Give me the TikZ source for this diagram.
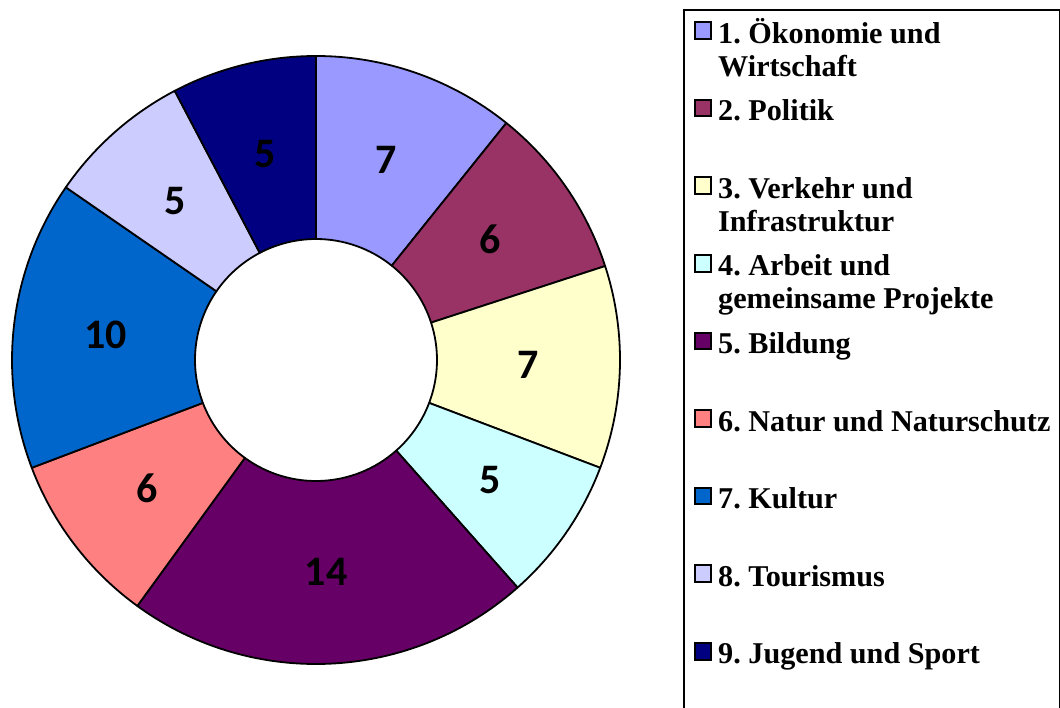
\documentclass[tikz,border=0pt]{standalone}
\usepackage{fontspec}
\setmainfont{Liberation Serif}
\newfontfamily\labfont{Carlito}
\usetikzlibrary{calc}
\definecolor{c1}{HTML}{9999FF}
\definecolor{c2}{HTML}{993366}
\definecolor{c3}{HTML}{FFFFCC}
\definecolor{c4}{HTML}{CCFFFF}
\definecolor{c5}{HTML}{660066}
\definecolor{c6}{HTML}{FF8080}
\definecolor{c7}{HTML}{0066CC}
\definecolor{c8}{HTML}{CCCCFF}
\definecolor{c9}{HTML}{000080}
\frenchspacing
\begin{document}
\begin{tikzpicture}[x=1pt,y=-1pt,
  seg/.style={draw=black,line width=1.8pt,line join=round},
  val/.style={font=\labfont\bfseries\fontsize{42}{42}\selectfont,inner sep=0pt},
  keybox/.style={draw=black,line width=2pt,minimum size=16.5pt,inner sep=0pt},
  entry/.style={font=\bfseries\fontsize{30.2}{33}\selectfont,anchor=base west,inner sep=0pt,align=left}]
\useasboundingbox (0,0) rectangle (1060,707);
\fill[white] (0,0) rectangle (1060,707);
\coordinate (c) at (316,360);
\def\Ro{304}\def\Ri{121}
\foreach \a/\b/\col/\v/\n in {
  -90/-51.231/c1/7/1,
  -51.231/-18.0/c2/6/2,
  -18.0/20.769/c3/7/3,
  20.769/48.462/c4/5/4,
  48.462/126.0/c5/14/5,
  126.0/159.231/c6/6/6,
  159.231/214.615/c7/10/7,
  214.615/242.308/c8/5/8,
  242.308/270/c9/5/9} {
  \draw[seg,fill=\col] ($(c)+(\a:\Ro)$) arc[start angle=\a,end angle=\b,radius=\Ro]
     -- ($(c)+(\b:\Ri)$) arc[start angle=\b,end angle=\a,radius=\Ri] -- cycle;
  \node[val] (v\n) at ($(c)+({(\a+\b)/2}:212)$) {\v};
}
% legend frame
\draw[line width=2pt] (684,720) -- (684,10) -- (1059.5,10) -- (1059.5,720);
% legend keys
\node[keybox,fill=c1] (s1) at (703,30.5) {};
\node[keybox,fill=c2] (s2) at (703,108.1) {};
\node[keybox,fill=c3] (s3) at (703,185.7) {};
\node[keybox,fill=c4] (s4) at (703,263.3) {};
\node[keybox,fill=c5] (s5) at (703,340.9) {};
\node[keybox,fill=c6] (s6) at (703,418.5) {};
\node[keybox,fill=c7] (s7) at (703,496.1) {};
\node[keybox,fill=c8] (s8) at (703,573.7) {};
\node[keybox,fill=c9] (s9) at (703,651.3) {};
% legend texts (base = last line)
\node[entry] (k1) at (718,76) {1. Ökonomie und\\Wirtschaft};
\node[entry] (k2) at (718,120.6) {2. Politik};
\node[entry] (k3) at (718,231.2) {3. Verkehr und\\Infrastruktur};
\node[entry] (k4) at (718,308.8) {4. Arbeit und\\gemeinsame Projekte};
\node[entry] (k5) at (718,353.4) {5. Bildung};
\node[entry] (k6) at (718,431) {6. Natur und Naturschutz};
\node[entry] (k7) at (718,508.6) {7. Kultur};
\node[entry] (k8) at (718,586.2) {8. Tourismus};
\node[entry] (k9) at (718,663.8) {9. Jugend und Sport};
\end{tikzpicture}
\end{document}
